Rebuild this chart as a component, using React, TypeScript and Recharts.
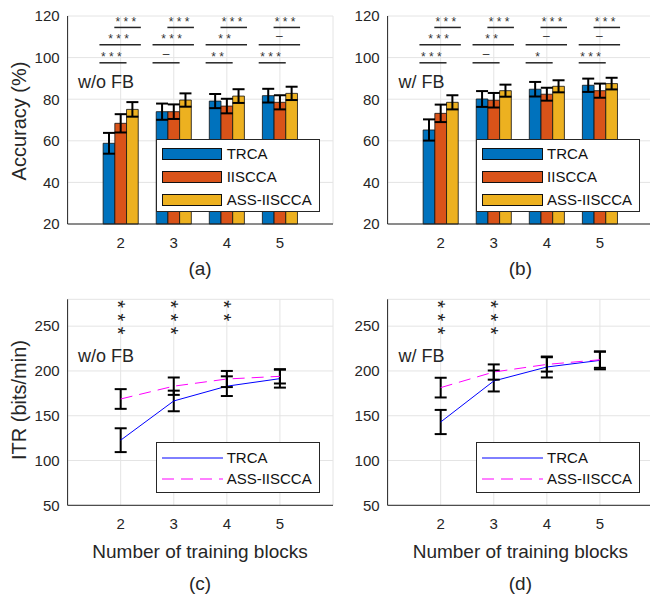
import React from "react";
import {
  ComposedChart,
  Bar,
  Line,
  XAxis,
  YAxis,
  CartesianGrid,
  ErrorBar,
  ReferenceLine,
  ReferenceDot,
} from "recharts";

const blocks = [2, 3, 4, 5];
const methods = ["TRCA", "IISCCA", "ASS-IISCCA"];
const barColors = ["#0072BD", "#D95319", "#EDB120"];
const lineMethods = ["TRCA", "ASS-IISCCA"];
const lineColors = ["#0000FF", "#FF00FF"];

// accuracy (%), w/o filter bank
const accTrcaNoFb = [58.8, 74.0, 79.1, 81.7];
const accIisccaNoFb = [68.4, 74.0, 76.7, 78.5];
const accAssNoFb = [75.1, 79.6, 81.5, 82.8];
const errTrcaNoFb = [5.0, 3.9, 3.4, 3.3];
const errIisccaNoFb = [4.4, 3.5, 3.5, 3.4];
const errAssNoFb = [3.5, 3.2, 3.3, 3.2];

// accuracy (%), w/ filter bank
const accTrcaFb = [65.2, 80.1, 84.8, 86.7];
const accIisccaFb = [73.2, 79.5, 82.4, 84.1];
const accAssFb = [78.5, 84.1, 86.2, 87.5];
const errTrcaFb = [5.1, 3.8, 3.5, 3.2];
const errIisccaFb = [4.2, 3.5, 3.1, 3.4];
const errAssFb = [3.4, 2.9, 2.9, 2.8];

// ITR (bits/min)
const itrTrcaNoFb = [122.7, 166.5, 183.0, 191.4];
const itrAssNoFb = [168.7, 183.0, 191.0, 194.0];
const itrTrcaNoFbErr = [13.3, 11.5, 11.0, 10.0];
const itrAssNoFbErr = [11.0, 9.7, 9.0, 8.0];
const itrTrcaFb = [143.0, 188.8, 204.4, 211.8];
const itrAssFb = [181.4, 198.8, 207.3, 212.5];
const itrTrcaFbErr = [13.5, 11.7, 11.7, 10.0];
const itrAssFbErr = [11.0, 8.5, 8.0, 9.0];

// pairwise significance marks
const sigNoFbTrcaIiscca = ["***", "–", "**", "***"];
const sigNoFbTrcaAss = ["***", "***", "**", "–"];
const sigNoFbIisccaAss = ["***", "***", "***", "***"];
const sigFbTrcaIiscca = ["***", "–", "*", "***"];
const sigFbTrcaAss = ["***", "**", "–", "–"];
const sigFbIisccaAss = ["***", "***", "***", "***"];

// number of stars, TRCA vs ASS-IISCCA ITR
const itrSigNoFb = [3, 3, 2, 0];
const itrSigFb = [3, 3, 0, 0];

const FONT = "'Liberation Sans', Arial, sans-serif";
const INK = "#262626";

// bracket rows: [from, to] offsets around the block, and height in %
const bracketRows = [
  { span: [-0.4, 0.11], y: 97.5 },
  { span: [-0.4, 0.38], y: 106.2 },
  { span: [-0.12, 0.38], y: 114.5 },
];
// top star level and spacing of the stacked stars, in bits/min
const itrStarTop = 274.7;
const itrStarStep = 14.9;

const SigText = (props: any) => {
  const { cx, cy, text } = props;
  if (cx == null || cy == null) return null;
  const isDash = text === "–";
  return (
    <text
      x={cx}
      y={isDash ? cy - 5 : cy - 1.6}
      textAnchor="middle"
      fontSize={12}
      fontFamily={FONT}
      fill="#333"
      letterSpacing={isDash ? 0 : 3.3}
    >
      {text}
    </text>
  );
};

// vertical stack of stars drawn as one rotated text
const StarStack = (props: any) => {
  const { cx, cy, count } = props;
  if (cx == null || cy == null || !count) return null;
  return (
    <text
      x={2.75}
      y={0}
      dy="0.5em"
      transform={`translate(${cx},${cy}) rotate(90)`}
      textAnchor="middle"
      fontSize={20}
      fontFamily={FONT}
      fill="#1e1e1e"
      letterSpacing={5.5}
    >
      {"*".repeat(count)}
    </text>
  );
};

const axisTick = { fill: INK, fontSize: 15, fontFamily: FONT };

function AccuracyPanel({ left, accs, errs, sigs }: any) {
  const data = blocks.map((b, i) => ({
    block: b,
    m0: accs[0][i],
    m1: accs[1][i],
    m2: accs[2][i],
    e0: errs[0][i],
    e1: errs[1][i],
    e2: errs[2][i],
  }));
  return (
    <div style={{ position: "absolute", left, top: 0 }}>
      <ComposedChart
        width={340}
        height={260}
        data={data}
        barGap={0}
        margin={{ top: 16, right: 7, left: 0, bottom: 0 }}
      >
        <CartesianGrid stroke="#e4e4e4" strokeWidth={1} />
        <XAxis
          type="number"
          dataKey="block"
          domain={[1, 6]}
          ticks={blocks}
          height={36}
          tickLine={false}
          tickSize={0}
          tickMargin={13}
          tick={axisTick}
          axisLine={{ stroke: INK }}
        />
        <YAxis
          type="number"
          domain={[20, 120]}
          ticks={[20, 40, 60, 80, 100, 120]}
          width={67.6}
          tickLine={false}
          tickSize={0}
          tickMargin={8}
          tick={axisTick}
          axisLine={{ stroke: INK }}
        />
        {methods.map((m, k) => (
          <Bar
            key={m}
            dataKey={"m" + k}
            name={m}
            fill={barColors[k]}
            stroke="#111"
            strokeWidth={0.8}
            barSize={11.7}
            isAnimationActive={false}
          >
            <ErrorBar dataKey={"e" + k} width={6} stroke="#000" strokeWidth={2} />
          </Bar>
        ))}
        {bracketRows.map((row, r) =>
          blocks.map((b, i) => (
            <ReferenceLine
              key={`l${r}-${i}`}
              segment={[
                { x: b + row.span[0], y: row.y },
                { x: b + row.span[1], y: row.y },
              ]}
              stroke={INK}
              strokeWidth={1.5}
            />
          ))
        )}
        {bracketRows.map((row, r) =>
          blocks.map((b, i) => (
            <ReferenceDot
              key={`t${r}-${i}`}
              x={b + (row.span[0] + row.span[1]) / 2}
              y={row.y}
              shape={(p: any) => <SigText {...p} text={sigs[r][i]} />}
            />
          ))
        )}
      </ComposedChart>
    </div>
  );
}

function ItrPanel({ left, vals, errs, stars }: any) {
  const data = blocks.map((b, i) => ({
    block: b,
    v0: vals[0][i],
    v1: vals[1][i],
    e0: errs[0][i],
    e1: errs[1][i],
  }));
  return (
    <div style={{ position: "absolute", left, top: 280 }}>
      <ComposedChart width={340} height={260} data={data} margin={{ top: 19.3, right: 7, left: 0, bottom: 0 }}>
        <CartesianGrid stroke="#e4e4e4" strokeWidth={1} />
        <XAxis
          type="number"
          dataKey="block"
          domain={[1, 6]}
          ticks={blocks}
          height={34.7}
          tickLine={false}
          tickSize={0}
          tickMargin={13}
          tick={axisTick}
          axisLine={{ stroke: INK }}
        />
        <YAxis
          type="number"
          domain={[50, 280]}
          ticks={[50, 100, 150, 200, 250]}
          width={67.6}
          tickLine={false}
          tickSize={0}
          tickMargin={8}
          tick={axisTick}
          axisLine={{ stroke: INK }}
        />
        {lineMethods.map((m, k) => (
          <Line
            key={m}
            dataKey={"v" + k}
            name={m}
            stroke={lineColors[k]}
            strokeWidth={1}
            strokeDasharray={k === 1 ? "12 7" : undefined}
            dot={false}
            activeDot={false}
            isAnimationActive={false}
          >
            <ErrorBar dataKey={"e" + k} width={6} stroke="#000" strokeWidth={2} />
          </Line>
        ))}
        {blocks.map((b, i) =>
          stars[i] > 0 ? (
            <ReferenceDot
              key={`s${i}`}
              x={b}
              y={itrStarTop - ((stars[i] - 1) / 2) * itrStarStep}
              shape={(p: any) => <StarStack {...p} count={stars[i]} />}
            />
          ) : null
        )}
      </ComposedChart>
    </div>
  );
}

function BarLegend({ left, top }: any) {
  return (
    <div
      style={{
        position: "absolute",
        left,
        top,
        width: 164,
        height: 73,
        boxSizing: "border-box",
        border: "1px solid #262626",
        background: "#fff",
      }}
    >
      {methods.map((m, k) => (
        <div key={m} style={{ position: "absolute", left: 0, top: 7.7 + k * 23, height: 12, width: 164 }}>
          <div
            style={{
              position: "absolute",
              left: 5,
              top: 0,
              width: 60.6,
              height: 12,
              boxSizing: "border-box",
              border: "1px solid #111",
              background: barColors[k],
            }}
          />
          <div
            style={{ position: "absolute", left: 70, top: -3, lineHeight: "18px", fontSize: 15, color: "#111", whiteSpace: "nowrap" }}
          >
            {m}
          </div>
        </div>
      ))}
    </div>
  );
}

function LineLegend({ left, top }: any) {
  return (
    <div
      style={{
        position: "absolute",
        left,
        top,
        width: 164,
        height: 51,
        boxSizing: "border-box",
        border: "1px solid #262626",
        background: "#fff",
      }}
    >
      {lineMethods.map((m, k) => (
        <div key={m} style={{ position: "absolute", left: 0, top: 15 + k * 21.6, width: 164 }}>
          <svg style={{ position: "absolute", left: 5, top: -1 }} width={61} height={2}>
            <line
              x1={0}
              y1={1}
              x2={61}
              y2={1}
              stroke={lineColors[k]}
              strokeWidth={1}
              strokeDasharray={k === 1 ? "12 7" : undefined}
            />
          </svg>
          <div
            style={{ position: "absolute", left: 70, top: -9, lineHeight: "18px", fontSize: 15, color: "#111", whiteSpace: "nowrap" }}
          >
            {m}
          </div>
        </div>
      ))}
    </div>
  );
}

const Txt = ({ x, y, size, children, center }: any) => (
  <div
    style={{
      position: "absolute",
      left: center ? x - 150 : x,
      top: y - size / 2 - 1,
      width: center ? 300 : undefined,
      textAlign: center ? "center" : "left",
      lineHeight: `${size + 2}px`,
      fontSize: size,
      color: INK,
      whiteSpace: "nowrap",
    }}
  >
    {children}
  </div>
);

const VTxt = ({ x, y, size, children }: any) => (
  <div
    style={{
      position: "absolute",
      left: x - 100,
      top: y - 12,
      width: 200,
      height: 24,
      lineHeight: "24px",
      textAlign: "center",
      fontSize: size,
      color: INK,
      transform: "rotate(-90deg)",
      whiteSpace: "nowrap",
    }}
  >
    {children}
  </div>
);

export default function App() {
  const dx = 320.4;
  return (
    <div
      style={{
        position: "absolute",
        left: 0,
        top: 0,
        width: 650,
        height: 595,
        overflow: "hidden",
        background: "#fff",
        fontFamily: FONT,
      }}
    >
      <AccuracyPanel
        left={0}
        accs={[accTrcaNoFb, accIisccaNoFb, accAssNoFb]}
        errs={[errTrcaNoFb, errIisccaNoFb, errAssNoFb]}
        sigs={[sigNoFbTrcaIiscca, sigNoFbTrcaAss, sigNoFbIisccaAss]}
      />
      <AccuracyPanel
        left={dx}
        accs={[accTrcaFb, accIisccaFb, accAssFb]}
        errs={[errTrcaFb, errIisccaFb, errAssFb]}
        sigs={[sigFbTrcaIiscca, sigFbTrcaAss, sigFbIisccaAss]}
      />
      <ItrPanel
        left={0}
        vals={[itrTrcaNoFb, itrAssNoFb]}
        errs={[itrTrcaNoFbErr, itrAssNoFbErr]}
        stars={itrSigNoFb}
      />
      <ItrPanel left={dx} vals={[itrTrcaFb, itrAssFb]} errs={[itrTrcaFbErr, itrAssFbErr]} stars={itrSigFb} />

      <BarLegend left={155.7} top={139.3} />
      <BarLegend left={155.7 + dx} top={139.3} />
      <LineLegend left={155.7} top={441.7} />
      <LineLegend left={155.7 + dx} top={441.7} />

      <Txt x={78} y={81.7} size={18}>w/o FB</Txt>
      <Txt x={78 + dx} y={81.7} size={18}>w/ FB</Txt>
      <Txt x={78} y={356} size={18}>w/o FB</Txt>
      <Txt x={78 + dx} y={356} size={18}>w/ FB</Txt>

      <VTxt x={19} y={121} size={20}>Accuracy (%)</VTxt>
      <VTxt x={19} y={400} size={20}>ITR (bits/min)</VTxt>

      <Txt x={200} y={268} size={19} center>(a)</Txt>
      <Txt x={200 + dx} y={268} size={19} center>(b)</Txt>
      <Txt x={200} y={551} size={19} center>Number of training blocks</Txt>
      <Txt x={200 + dx} y={551} size={19} center>Number of training blocks</Txt>
      <Txt x={200} y={583} size={19} center>(c)</Txt>
      <Txt x={200 + dx} y={583} size={19} center>(d)</Txt>
    </div>
  );
}
